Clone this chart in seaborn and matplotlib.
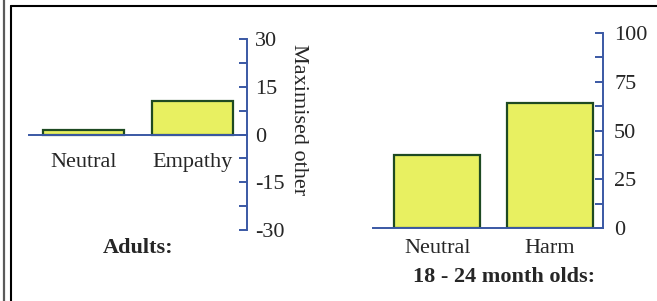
import matplotlib.pyplot as plt
import seaborn as sns
from matplotlib.lines import Line2D

# 数据
adult_conditions = ['Neutral', 'Empathy']
adult_values = [1.5, 10.5]
adult_ticks = [-30, -15, 0, 15, 30]
adult_minor = [-22.5, -7.5, 7.5, 22.5]

toddler_conditions = ['Neutral', 'Harm']
toddler_values = [37.5, 64.0]
toddler_ticks = [0, 25, 50, 75, 100]
toddler_minor = [12.5, 37.5, 62.5, 87.5]

bar_fill = '#E8F061'
bar_edge = '#1E4A22'
axis_blue = '#3A58A4'
fs = 16

sns.set_style('white')
plt.rcParams['font.family'] = ['Liberation Serif', 'DejaVu Serif']
plt.rcParams['font.size'] = fs
plt.rcParams['axes.unicode_minus'] = False

W, H = 657, 301
fig = plt.figure(figsize=(W / 100, H / 100), dpi=100)


def style_axis(ax, pad_y):
    for s in ['left', 'top']:
        ax.spines[s].set_visible(False)
    for s in ['right', 'bottom']:
        ax.spines[s].set_color(axis_blue)
        ax.spines[s].set_linewidth(1.4)
    ax.yaxis.tick_right()
    ax.tick_params(axis='y', which='both', direction='in', length=6, width=1.4,
                   color=axis_blue, pad=pad_y, labelsize=fs)
    ax.set_xlabel('')
    ax.set_ylabel('')


# 左图: 成人
ax1 = fig.add_axes([29 / W, 1 - 230 / H, 218 / W, 191 / H])
sns.barplot(x=adult_conditions, y=adult_values, color=bar_fill, edgecolor=bar_edge,
            linewidth=1.6, width=0.74, saturation=1, ax=ax1)
ax1.set_ylim(-30, 30)
ax1.set_xlim(-0.5, 1.5)
ax1.set_yticks(adult_ticks)
ax1.set_yticks(adult_minor, minor=True)
style_axis(ax1, 6)
ax1.spines['bottom'].set_position(('data', 0))
ax1.tick_params(axis='x', length=0, pad=13, labelsize=fs)
ax1.yaxis.set_label_position('right')
ax1.set_ylabel('Maximised other', fontsize=fs)
ax1.yaxis.label.set(rotation=-90, ha='center', va='center', rotation_mode='default')
ax1.yaxis.set_label_coords((298 - 29) / 218, (230 - 120) / 191)

# 右图: 18-24个月
ax2 = fig.add_axes([373 / W, 1 - 228 / H, 230 / W, 195 / H])
sns.barplot(x=toddler_conditions, y=toddler_values, color=bar_fill, edgecolor=bar_edge,
            linewidth=1.6, width=0.76, saturation=1, ax=ax2)
ax2.set_ylim(0, 100)
ax2.set_xlim(-0.57, 1.47)
ax2.set_yticks(toddler_ticks)
ax2.set_yticks(toddler_minor, minor=True)
style_axis(ax2, 8)
ax2.set_xticks([-0.57, 1.47], minor=True)
ax2.tick_params(axis='x', which='major', length=0, pad=8, labelsize=fs)
ax2.tick_params(axis='x', which='minor', direction='out', length=5, width=1.4,
                color=axis_blue)

fig.text(138 / W, 1 - 253 / H, 'Adults:', ha='center', va='baseline',
         fontsize=fs, fontweight='bold')
fig.text(504 / W, 1 - 282 / H, '18 - 24 month olds:', ha='center', va='baseline',
         fontsize=fs, fontweight='bold')

# 边框
fig.add_artist(Line2D([3.5 / W, 3.5 / W], [0, 1], color='#5a5a5a', lw=1.6))
fig.add_artist(Line2D([10.5 / W, 10.5 / W], [0, 1 - 5.5 / H], color='black', lw=1.5))
fig.add_artist(Line2D([10.5 / W, 1], [1 - 5.5 / H, 1 - 5.5 / H], color='black', lw=1.5))

fig.savefig('out.png', dpi=100)
